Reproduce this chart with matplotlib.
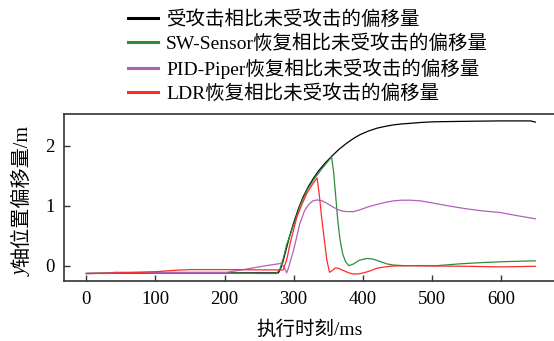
import matplotlib
matplotlib.use("Agg")
import matplotlib.pyplot as plt

plt.rcParams['font.family'] = ['Liberation Serif', 'Noto Sans CJK SC', 'DejaVu Sans']

labels = ["受攻击相比未受攻击的偏移量",
          "SW-Sensor恢复相比未受攻击的偏移量",
          "PID-Piper恢复相比未受攻击的偏移量",
          "LDR恢复相比未受攻击的偏移量"]

black_x = [0, 40, 100, 150, 200, 250, 278, 283, 288, 294, 300, 307, 314, 321, 329, 337, 345, 355, 366, 377, 387, 396, 408, 421, 433, 445, 457, 469, 485, 502, 530, 560, 600, 630, 643, 650]
black_y = [-0.13, -0.125, -0.12, -0.12, -0.12, -0.12, -0.12, 0.0, 0.22, 0.48, 0.71, 0.95, 1.15, 1.31, 1.46, 1.59, 1.70, 1.82, 1.94, 2.04, 2.12, 2.18, 2.24, 2.29, 2.32, 2.345, 2.36, 2.37, 2.385, 2.395, 2.40, 2.405, 2.41, 2.41, 2.41, 2.39]

green_x = [0, 40, 100, 150, 200, 250, 275, 280, 285, 290, 300, 310, 320, 330, 340, 350, 355, 358, 361, 364, 367, 371, 375, 380, 387, 395, 406, 415, 425, 435, 445, 460, 480, 507, 540, 570, 600, 630, 650]
green_y = [-0.13, -0.125, -0.12, -0.12, -0.12, -0.13, -0.13, -0.06, 0.12, 0.35, 0.68, 1.02, 1.27, 1.45, 1.6, 1.74, 1.81, 1.55, 1.15, 0.75, 0.45, 0.2, 0.07, 0.0, 0.03, 0.09, 0.12, 0.11, 0.07, 0.03, 0.01, 0.0, 0.0, 0.0, 0.03, 0.05, 0.065, 0.075, 0.08]

purple_x = [0, 30, 40, 100, 150, 203, 230, 260, 283, 287, 290, 293, 300, 309, 316, 322, 328, 334, 341, 348, 355, 363, 370, 377, 387, 396, 408, 421, 433, 445, 457, 469, 483, 503, 527, 551, 575, 599, 625, 650]
purple_y = [-0.13, -0.13, -0.11, -0.11, -0.11, -0.11, -0.06, 0.0, 0.04, -0.05, -0.12, -0.02, 0.26, 0.7, 0.92, 1.02, 1.08, 1.095, 1.08, 1.04, 0.99, 0.94, 0.91, 0.9, 0.9, 0.93, 0.98, 1.02, 1.055, 1.08, 1.09, 1.09, 1.08, 1.04, 0.99, 0.945, 0.91, 0.885, 0.83, 0.78]

red_x = [0, 50, 100, 130, 150, 200, 250, 285, 290, 295, 300, 305, 312, 319, 327, 334, 337, 341, 345, 348, 352, 356, 360, 364, 368, 372, 380, 387, 395, 401, 410, 420, 432, 445, 469, 500, 550, 600, 650]
red_y = [-0.13, -0.12, -0.1, -0.075, -0.065, -0.065, -0.07, -0.07, 0.1, 0.37, 0.6, 0.82, 1.02, 1.2, 1.35, 1.46, 1.2, 0.76, 0.38, 0.1, -0.11, -0.08, -0.04, -0.04, -0.06, -0.08, -0.12, -0.14, -0.135, -0.12, -0.09, -0.045, -0.02, -0.005, 0.0, -0.005, -0.01, -0.02, -0.01]

x_ticks = [0, 100, 200, 300, 400, 500, 600]
y_ticks = [0, 1, 2]

W, H = 554, 341
fig = plt.figure(figsize=(W / 100, H / 100), dpi=100)
ax = fig.add_axes([64.3 / W, (H - 281) / H, 1 - 64.3 / W, (281 - 114.3) / H])

lw = 0.9
l1, = ax.plot(black_x, black_y, color='#000000', lw=lw)
l2, = ax.plot(green_x, green_y, color='#2f8a3e', lw=lw)
l3, = ax.plot(purple_x, purple_y, color='#b45fbe', lw=lw)
l4, = ax.plot(red_x, red_y, color='#ff2a2a', lw=lw)

ax.set_xlim(-32, 677)
ax.set_ylim(-0.255, 2.52)
ax.set_xticks(x_ticks)
ax.set_yticks(y_ticks)
ax.tick_params(direction='in', length=4.5, width=1.0, labelsize=13.5, pad=7, color='#333333')
ax.spines['right'].set_visible(False)
for s in ['left', 'top', 'bottom']:
    ax.spines[s].set_linewidth(1.2)
    ax.spines[s].set_color('#333333')

ax.set_xlabel("执行时刻/ms", fontsize=14, labelpad=9)

# y label with italic y
yb = 1 - 267 / H
fig.text(27 / W, yb, "轴位置偏移量/m", rotation=90, rotation_mode='anchor',
         ha='left', va='baseline', fontsize=14.5)
fig.text(27 / W, yb, "y", rotation=90, rotation_mode='anchor',
         ha='right', va='baseline', fontsize=14.5, style='italic')

fig.legend([l1, l2, l3, l4], labels, loc='upper left',
           bbox_to_anchor=(126 / W, 1 - 8 / H), frameon=False,
           fontsize=14, handlelength=1.55, handletextpad=0.41,
           labelspacing=0.27, borderpad=0.1, borderaxespad=0)

for lh in fig.legends[0].get_lines():
    lh.set_linewidth(2.2)

fig.savefig("out.png", dpi=100)
